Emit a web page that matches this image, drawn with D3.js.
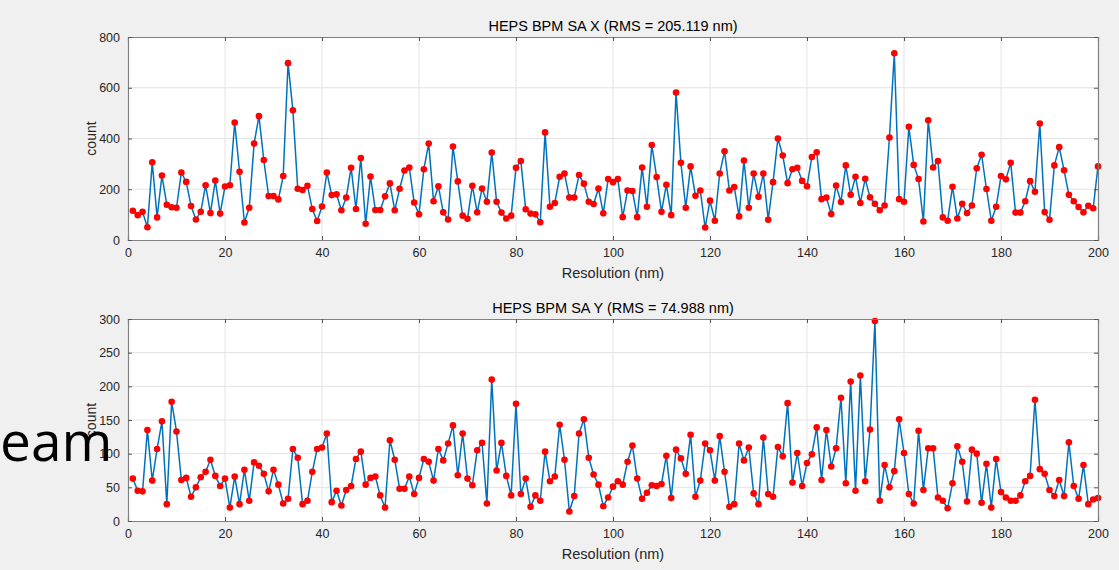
<!DOCTYPE html>
<html><head><meta charset="utf-8">
<script src="https://cdn.jsdelivr.net/npm/d3@7"></script>
<style>html,body{margin:0;padding:0;background:#f0f0f0;}svg{display:block;}</style>
</head><body>
<svg id="c" width="1119" height="570"></svg>
<script>
const xValues = d3.range(1, 201);
const xTicks = [0,20,40,60,80,100,120,140,160,180,200];
const yTicksX = [0,200,400,600,800];
const yTicksY = [0,50,100,150,200,250,300];
const titleX = "HEPS BPM SA X (RMS = 205.119 nm)";
const titleY = "HEPS BPM SA Y (RMS = 74.988 nm)";
const xLabel = "Resolution (nm)";
const yLabel = "count";
const overlayText = "eam";

const countsX = [
115,98,111,50,306,89,254,139,129,127,266,229,134,81,111,216,106,234,104,211,
216,463,269,69,127,380,488,315,173,173,160,252,697,511,202,197,214,122,75,132,
266,177,180,117,167,285,122,323,64,250,118,118,172,223,117,202,274,286,148,101,
279,380,153,212,109,81,368,231,96,84,214,109,203,151,345,151,108,85,96,285,
311,121,104,101,70,424,131,146,249,262,167,167,256,222,151,142,203,105,240,228,
240,90,195,193,90,286,131,374,248,111,218,98,581,304,127,290,174,195,49,155,
76,262,350,195,209,93,313,127,262,170,262,80,228,400,333,224,279,285,233,212,
327,346,161,167,102,215,150,294,178,249,146,241,168,143,117,136,404,736,161,151,
446,296,240,73,472,286,311,89,76,210,85,143,106,136,283,336,201,76,131,252,
239,304,108,108,153,232,190,459,110,80,294,366,275,178,153,130,109,135,125,290];

const countsY = [
63,45,44,135,60,107,148,25,177,133,61,64,36,50,65,73,91,67,52,63,
20,66,25,76,30,87,82,70,44,76,54,26,33,107,94,25,30,73,107,109,
130,28,45,23,46,52,92,103,54,64,66,38,20,120,91,48,48,66,40,64,
92,88,60,107,90,115,142,68,130,63,53,105,116,26,210,75,116,67,38,174,
40,63,21,38,30,103,59,66,143,91,14,37,130,151,94,69,54,22,35,51,
59,54,88,112,63,33,42,53,52,55,97,34,106,93,70,128,36,60,115,105,
60,126,73,21,25,115,90,109,41,25,124,40,36,110,96,175,57,101,52,86,
99,139,61,135,81,108,183,56,207,45,216,59,136,297,30,83,50,74,151,101,
40,26,134,46,108,108,35,30,19,56,111,88,29,106,100,27,85,20,92,43,
35,30,30,38,59,67,180,77,70,46,37,61,37,117,52,33,83,25,32,34];

const svg = d3.select("#c");
const font = "Arial, 'Liberation Sans', Helvetica, sans-serif";
const x = d3.scaleLinear().domain([0,200]).range([128,1098]);

function panel(data, yDomain, yTicks, top, bottom, title) {
  const y = d3.scaleLinear().domain(yDomain).range([bottom, top]);
  const g = svg.append("g");
  g.append("rect").attr("x", x(0)).attr("y", top).attr("width", x(200)-x(0)).attr("height", bottom-top)
    .attr("fill", "#fff");
  g.selectAll(".gx").data(xTicks.slice(1,-1)).enter().append("line")
    .attr("x1", d=>x(d)).attr("x2", d=>x(d)).attr("y1", top).attr("y2", bottom)
    .attr("stroke", "#e3e3e3").attr("stroke-width", 1);
  g.selectAll(".gy").data(yTicks.slice(1,-1)).enter().append("line")
    .attr("x1", x(0)).attr("x2", x(200)).attr("y1", d=>y(d)).attr("y2", d=>y(d))
    .attr("stroke", "#e3e3e3").attr("stroke-width", 1);
  const line = d3.line().x((d,i)=>x(xValues[i])).y(d=>y(d));
  g.append("path").datum(data).attr("d", line).attr("fill", "none")
    .attr("stroke", "#0072BD").attr("stroke-width", 1.5);
  g.selectAll(".pt").data(data).enter().append("circle")
    .attr("cx", (d,i)=>x(xValues[i])).attr("cy", d=>y(d)).attr("r", 3.3)
    .attr("fill", "#ff0000");
  const axCol = "#808080";
  const bAx = d3.axisBottom(x).tickValues(xTicks).tickSize(-4).tickPadding(8).tickFormat(d3.format("d"));
  const tAx = d3.axisTop(x).tickValues(xTicks).tickSize(-4).tickFormat("");
  const lAx = d3.axisLeft(y).tickValues(yTicks).tickSize(-4).tickPadding(8).tickFormat(d3.format("d"));
  const rAx = d3.axisRight(y).tickValues(yTicks).tickSize(-4).tickFormat("");
  const styleAx = sel => {
    sel.selectAll("path").attr("stroke", axCol);
    sel.selectAll("line").attr("stroke", "#555");
    sel.selectAll("text").attr("fill", "#262626").style("font-family", font).style("font-size", "12.5px");
  };
  g.append("g").attr("transform", `translate(0,${bottom})`).call(bAx).call(styleAx);
  g.append("g").attr("transform", `translate(0,${top})`).call(tAx).call(styleAx);
  g.append("g").attr("transform", `translate(${x(0)},0)`).call(lAx).call(styleAx);
  g.append("g").attr("transform", `translate(${x(200)},0)`).call(rAx).call(styleAx);
  g.selectAll(".domain").attr("stroke-width", 1.2);
  g.append("text").attr("x", (x(0)+x(200))/2).attr("y", top-6).attr("text-anchor", "middle")
    .style("font-family", font).style("font-size", "14.5px").attr("fill", "#000").text(title);
  g.append("text").attr("x", (x(0)+x(200))/2).attr("y", bottom+38).attr("text-anchor", "middle")
    .style("font-family", font).style("font-size", "14.5px").attr("fill", "#262626").text(xLabel);
  g.append("text").attr("transform", `translate(96,${(top+bottom)/2}) rotate(-90)`).attr("text-anchor", "middle")
    .style("font-family", font).style("font-size", "14px").attr("fill", "#262626").text(yLabel);
}

panel(countsX, [0,800], yTicksX, 37, 240, titleX);
panel(countsY, [0,300], yTicksY, 319, 521, titleY);

svg.append("text").attr("x", 0).attr("y", 461)
  .style("font-family", "'Open Sans', 'Liberation Sans', sans-serif").style("font-size", "55px")
  .attr("fill", "#000").text(overlayText);
</script>
</body></html>
